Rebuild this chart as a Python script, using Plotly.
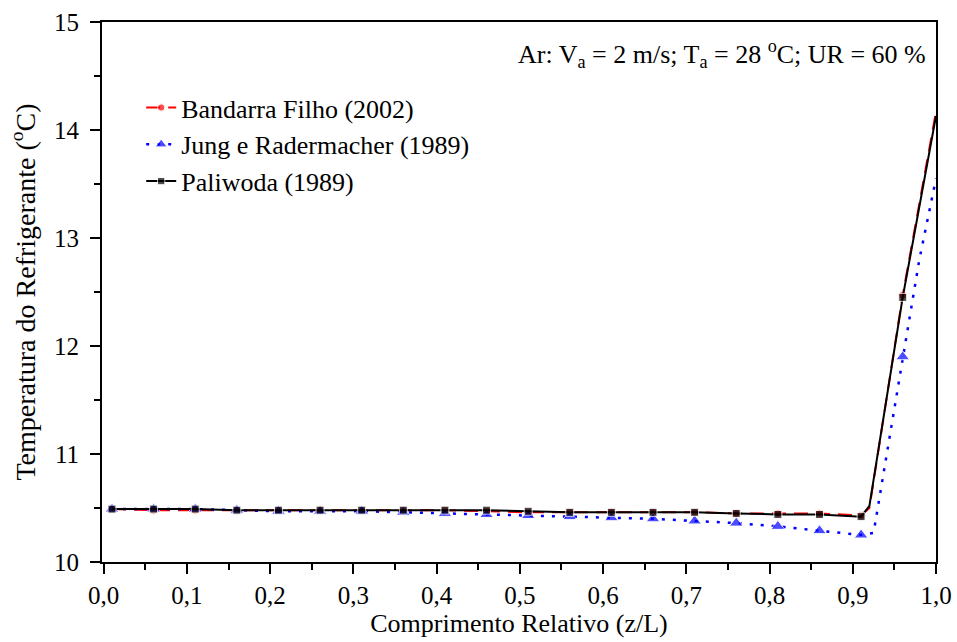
import plotly.graph_objects as go

# ---- data ----
x_pts = [0.01, 0.06, 0.11, 0.16, 0.21, 0.26, 0.31, 0.36, 0.41, 0.46,
         0.51, 0.56, 0.61, 0.66, 0.71, 0.76, 0.81, 0.86, 0.91]

bandarra_x = x_pts + [0.92, 0.96, 1.0]
bandarra_y = [10.49, 10.48, 10.48, 10.48, 10.48, 10.48, 10.48, 10.48, 10.48, 10.47,
              10.46, 10.46, 10.46, 10.46, 10.46, 10.45, 10.45, 10.45, 10.43,
              10.50, 12.47, 14.17]
bandarra_marker = [8] * 19 + [0, 8, 0]

jung_x = x_pts + [0.925, 0.96, 0.98, 1.0]
jung_y = [10.49, 10.49, 10.49, 10.48, 10.47, 10.47, 10.47, 10.46, 10.45, 10.44,
          10.43, 10.42, 10.41, 10.40, 10.38, 10.36, 10.33, 10.29, 10.25,
          10.27, 11.90, 12.80, 13.55]
jung_marker = [12] * 19 + [0, 12, 0, 0]

paliwoda_x = x_pts + [0.92, 0.96, 1.0]
paliwoda_y = [10.49, 10.49, 10.49, 10.48, 10.48, 10.48, 10.48, 10.48, 10.48, 10.48,
              10.47, 10.46, 10.46, 10.46, 10.46, 10.45, 10.44, 10.44, 10.42,
              10.52, 12.45, 14.13]
paliwoda_marker = [8] * 19 + [0, 8, 0]

names = ["Bandarra Filho (2002)", "Jung e Radermacher (1989)", "Paliwoda (1989)"]

FONT = "Liberation Serif, Times New Roman, serif"

fig = go.Figure()
fig.add_trace(go.Scatter(
    x=bandarra_x, y=bandarra_y, name=names[0], mode="lines+markers",
    legendgroup="a",
    line=dict(color="#ff0000", width=2, dash="14px,8px"),
    marker=dict(symbol="circle", size=bandarra_marker, color="#ff0000"),
))
fig.add_trace(go.Scatter(
    x=jung_x, y=jung_y, name=names[1], mode="lines+markers",
    legendgroup="b",
    line=dict(color="#0000ff", width=2.5, dash="3px,8px"),
    marker=dict(symbol="triangle-up", size=jung_marker, color="#0000ff"),
))
fig.add_trace(go.Scatter(
    x=paliwoda_x, y=paliwoda_y, name=names[2], mode="lines+markers",
    legendgroup="c",
    line=dict(color="#000000", width=2),
    marker=dict(symbol="square", size=paliwoda_marker, color="#000000"),
))

fig.add_annotation(
    text="Ar: V<sub>a</sub> = 2 m/s; T<sub>a</sub> = 28 <sup>o</sup>C; UR = 60 %",
    xref="paper", yref="paper", x=0.99, y=0.94, xanchor="right", yanchor="middle",
    showarrow=False, font=dict(family=FONT, size=26, color="black"),
)

fig.update_layout(
    width=957, height=642,
    margin=dict(l=102, r=21, t=22, b=80, autoexpand=False),
    paper_bgcolor="white", plot_bgcolor="white",
    separators=",.",
    font=dict(family=FONT, size=25, color="black"),
    showlegend=True,
    legend=dict(
        x=0.047, y=0.885, xanchor="left", yanchor="top",
        bgcolor="rgba(0,0,0,0)", font=dict(family=FONT, size=26),
        tracegroupgap=0, traceorder="grouped",
    ),
    xaxis=dict(
        range=[-0.002, 1.0], tick0=0, dtick=0.1, tickformat=".1f",
        ticks="outside", ticklen=10, tickwidth=2, tickcolor="black",
        minor=dict(dtick=0.05, ticks="outside", ticklen=6, tickwidth=2, tickcolor="black"),
        showline=True, linewidth=2, linecolor="black", mirror=True,
        showgrid=False, zeroline=False, automargin=False,
        title=dict(text="Comprimento Relativo (z/L)", font=dict(family=FONT, size=26), standoff=2),
        tickfont=dict(family=FONT, size=25),
    ),
    yaxis=dict(
        range=[10, 15], tick0=10, dtick=1,
        ticks="outside", ticklen=10, tickwidth=2, tickcolor="black",
        minor=dict(dtick=0.5, ticks="outside", ticklen=6, tickwidth=2, tickcolor="black"),
        showline=True, linewidth=2, linecolor="black", mirror=True,
        showgrid=False, zeroline=False, automargin=False,
        ticklabelstandoff=6,
        title=dict(text="Temperatura do Refrigerante (<sup>o</sup>C)", font=dict(family=FONT, size=28), standoff=10),
        tickfont=dict(family=FONT, size=25),
    ),
)

# remove the default 8px body margin so the 957x642 figure fills the window exactly
fig.write_html(
    "out.html",
    config={"displayModeBar": False},
    post_script="document.body.style.margin='0';document.body.style.overflow='hidden';",
)
